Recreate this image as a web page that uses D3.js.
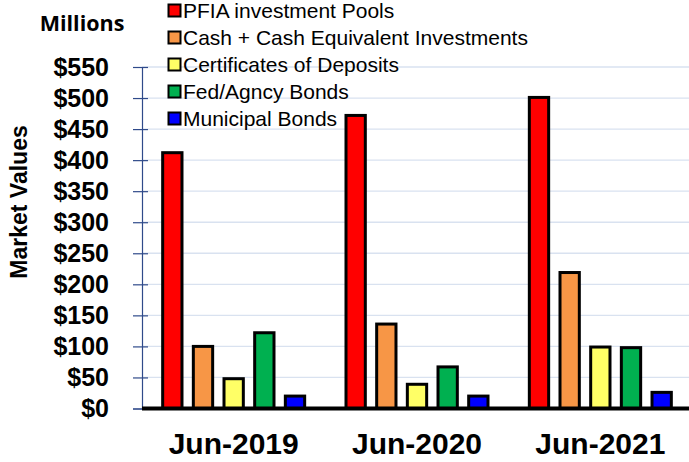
<!DOCTYPE html>
<html>
<head>
<meta charset="utf-8">
<script src="https://cdn.jsdelivr.net/npm/d3@7"></script>
<style>
  body { margin: 0; background: #fff; }
  svg { display: block; }
</style>
</head>
<body>
<svg width="689" height="462"></svg>
<script>
// data (millions of dollars)
var periods = ["Jun-2019", "Jun-2020", "Jun-2021"];
var seriesNames = ["PFIA investment Pools", "Cash + Cash Equivalent Investments",
                   "Certificates of Deposits", "Fed/Agncy Bonds", "Municipal Bonds"];
var seriesColors = ["#ff0000", "#f79646", "#ffff66", "#00b050", "#0000ff"];
var pfia = [412, 472, 501];
var cash = [100, 136, 219];
var cds = [48, 39, 99];
var fed = [122, 67, 98];
var muni = [20, 20, 26];
var yTicks = [0, 50, 100, 150, 200, 250, 300, 350, 400, 450, 500, 550];

var allSeries = [pfia, cash, cds, fed, muni];

var svg = d3.select("svg"),
    width = +svg.attr("width"),
    height = +svg.attr("height");

// plot area (window.top is reserved, so prefix these)
var plotLeft = 142, plotRight = 692, plotTop = 67, plotBottom = 408.5;

var x0 = d3.scaleBand().domain(periods).range([plotLeft, plotRight]);
var groupW = 142;
var x1 = d3.scaleBand().domain(seriesNames)
    .range([(x0.bandwidth() - groupW) / 2, (x0.bandwidth() + groupW) / 2])
    .paddingInner(0.37).paddingOuter(0);
var y = d3.scaleLinear().domain([0, 550]).range([plotBottom, plotTop]);

// gridlines
svg.append("g")
    .selectAll("line")
    .data(yTicks.slice(1))
    .enter().append("line")
    .attr("x1", plotLeft).attr("x2", width)
    .attr("y1", function (d) { return y(d); })
    .attr("y2", function (d) { return y(d); })
    .attr("stroke", "#d9e2f0")
    .attr("stroke-width", 1.3);

// y axis
var yAxis = d3.axisLeft(y)
    .tickValues(yTicks)
    .tickSize(9)
    .tickFormat(function (d) { return "$" + d; });

var gy = svg.append("g")
    .attr("transform", "translate(" + plotLeft + ",0)")
    .call(yAxis);
gy.select(".domain").attr("stroke", "#2f4a8a").attr("stroke-width", 1.2);
gy.selectAll(".tick line")
    .attr("x2", 6).attr("x1", -9)
    .attr("stroke", "#2f4a8a").attr("stroke-width", 1.2);
gy.selectAll(".tick text")
    .attr("x", -33)
    .style("font-family", "'Liberation Sans', Arial, sans-serif")
    .style("font-weight", "bold")
    .style("font-size", "25px")
    .attr("fill", "#000");

// bars
var groups = svg.append("g")
    .selectAll("g")
    .data(periods)
    .enter().append("g")
    .attr("transform", function (d) { return "translate(" + x0(d) + ",0)"; });

groups.selectAll("rect")
    .data(function (p, i) {
        return seriesNames.map(function (s, k) {
            return { name: s, value: allSeries[k][i], color: seriesColors[k] };
        });
    })
    .enter().append("rect")
    .attr("x", function (d) { return x1(d.name); })
    .attr("width", x1.bandwidth())
    .attr("y", function (d) { return y(d.value); })
    .attr("height", function (d) { return y(0) - y(d.value); })
    .attr("fill", function (d) { return d.color; })
    .attr("stroke", "#000")
    .attr("stroke-width", 3);

// baseline
svg.append("line")
    .attr("x1", plotLeft).attr("x2", width)
    .attr("y1", y(0)).attr("y2", y(0))
    .attr("stroke", "#000")
    .attr("stroke-width", 4);

// x labels
var xAxis = d3.axisBottom(x0).tickSize(0);
var gx = svg.append("g")
    .attr("transform", "translate(0," + y(0) + ")")
    .call(xAxis);
gx.select(".domain").remove();
gx.selectAll(".tick text")
    .attr("y", 24)
    .attr("dy", "0.71em")
    .style("font-family", "'Liberation Sans', Arial, sans-serif")
    .style("font-weight", "bold")
    .style("font-size", "30px")
    .attr("fill", "#000");

// titles
svg.append("text")
    .attr("x", 82).attr("y", 31)
    .attr("text-anchor", "middle")
    .style("font-family", "'Open Sans', sans-serif")
    .style("font-weight", "bold")
    .style("font-size", "21.5px")
    .text("Millions");

svg.append("text")
    .attr("transform", "translate(27,202) rotate(-90)")
    .attr("text-anchor", "middle")
    .style("font-family", "'Liberation Sans', Arial, sans-serif")
    .style("font-weight", "bold")
    .style("font-size", "23px")
    .text("Market Values");

// legend
var legend = svg.append("g")
    .selectAll("g")
    .data(seriesNames)
    .enter().append("g")
    .attr("transform", function (d, i) { return "translate(168," + (10.5 + i * 27) + ")"; });

legend.append("rect")
    .attr("x", 0.5).attr("y", -6)
    .attr("width", 12).attr("height", 12)
    .attr("fill", function (d, i) { return seriesColors[i]; })
    .attr("stroke", "#000")
    .attr("stroke-width", 2);

legend.append("text")
    .attr("x", 15).attr("y", 0)
    .attr("dy", "0.35em")
    .style("font-family", "'Liberation Sans', Arial, sans-serif")
    .style("font-size", "21px")
    .text(function (d) { return d; });
</script>
</body>
</html>
